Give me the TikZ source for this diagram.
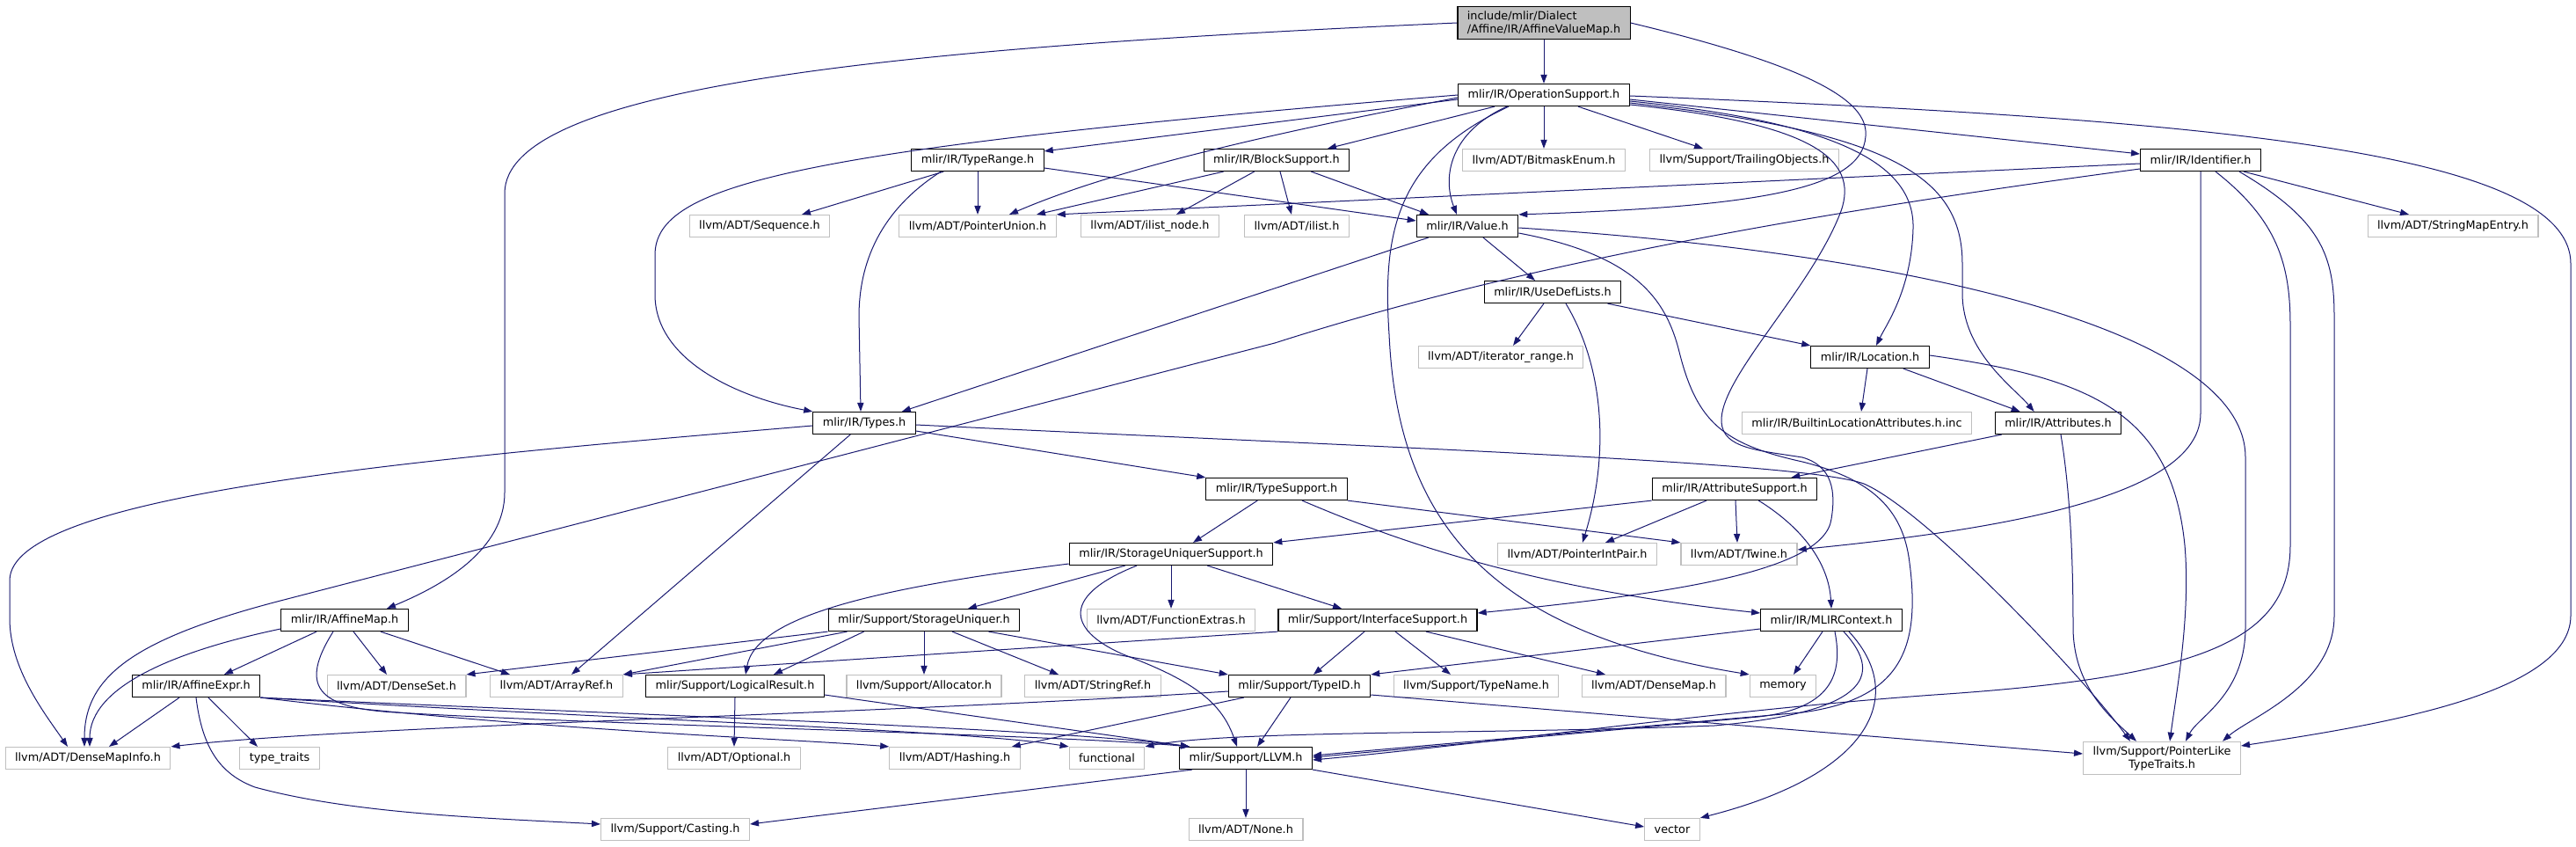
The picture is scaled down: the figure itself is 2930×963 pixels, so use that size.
\documentclass[tikz,border=0pt]{standalone}
\usepackage{fontspec}
\setmainfont{DejaVu Sans}
\usetikzlibrary{arrows.meta, calc}
\definecolor{edgeBlue}{HTML}{191970}
\definecolor{extGray}{HTML}{BFBFBF}

\begin{document}
\begin{tikzpicture}[x=0.5pt, y=-0.5pt, font=\fontsize{6.4}{7.5}\selectfont,
    box/.style={rectangle, inner xsep=5.5pt, inner ysep=2.5pt, minimum height=12.5pt, text=black},
    doc/.style={box, draw=black, line width=0.6pt, fill=white},
    ext/.style={box, draw=extGray, line width=0.6pt, fill=white},
    dep/.style={draw=edgeBlue, line width=0.5pt, -{Triangle[length=5pt, width=3.6pt]}}]
  \useasboundingbox[fill=white] (0,0) rectangle (2930,963);

  % headers, row by row
  \node[doc, fill=extGray, align=left] (root) at (1756,26) {include/mlir/Dialect\\/Affine/IR/AffineValueMap.h};
  \node[doc] (opsup) at (1756,108) {mlir/IR/OperationSupport.h};
  \node[doc] (typerange) at (1112,182) {mlir/IR/TypeRange.h};
  \node[doc] (blocksup) at (1452,182) {mlir/IR/BlockSupport.h};
  \node[ext] (bitmask) at (1756,182) {llvm/ADT/BitmaskEnum.h};
  \node[ext] (trailing) at (1984,182) {llvm/Support/TrailingObjects.h};
  \node[doc] (identifier) at (2503,182) {mlir/IR/Identifier.h};
  \node[ext] (seq) at (864,257) {llvm/ADT/Sequence.h};
  \node[ext] (ptrunion) at (1112,257) {llvm/ADT/PointerUnion.h};
  \node[ext] (ilistnode) at (1308,257) {llvm/ADT/ilist\_node.h};
  \node[ext] (ilist) at (1475,257) {llvm/ADT/ilist.h};
  \node[doc] (value) at (1669,257) {mlir/IR/Value.h};
  \node[ext] (smentry) at (2790,257) {llvm/ADT/StringMapEntry.h};
  \node[doc] (usedef) at (1766,332) {mlir/IR/UseDefLists.h};
  \node[ext] (iterrange) at (1707,406) {llvm/ADT/iterator\_range.h};
  \node[doc] (location) at (2127,406) {mlir/IR/Location.h};
  \node[doc] (types) at (983,481) {mlir/IR/Types.h};
  \node[ext] (builtinloc) at (2112,481) {mlir/IR/BuiltinLocationAttributes.h.inc};
  \node[doc] (attributes) at (2341,481) {mlir/IR/Attributes.h};
  \node[doc] (typesupport) at (1452,556) {mlir/IR/TypeSupport.h};
  \node[doc] (attrsupport) at (1973,556) {mlir/IR/AttributeSupport.h};
  \node[doc] (sus) at (1332,630) {mlir/IR/StorageUniquerSupport.h};
  \node[ext] (ptrintpair) at (1794,630) {llvm/ADT/PointerIntPair.h};
  \node[ext] (twine) at (1978,630) {llvm/ADT/Twine.h};
  \node[doc] (affinemap) at (392,705) {mlir/IR/AffineMap.h};
  \node[doc] (storageuniquer) at (1051,705) {mlir/Support/StorageUniquer.h};
  \node[ext] (funcextras) at (1332,705) {llvm/ADT/FunctionExtras.h};
  \node[doc] (ifacesup) at (1567,705) {mlir/Support/InterfaceSupport.h};
  \node[doc] (mlircontext) at (2083,705) {mlir/IR/MLIRContext.h};
  \node[doc] (affineexpr) at (223,780) {mlir/IR/AffineExpr.h};
  \node[ext] (denseset) at (451,780) {llvm/ADT/DenseSet.h};
  \node[ext] (arrayref) at (633,780) {llvm/ADT/ArrayRef.h};
  \node[doc] (logicalresult) at (836,780) {mlir/Support/LogicalResult.h};
  \node[ext] (allocator) at (1051,780) {llvm/Support/Allocator.h};
  \node[ext] (stringref) at (1243,780) {llvm/ADT/StringRef.h};
  \node[doc] (typeid) at (1478,780) {mlir/Support/TypeID.h};
  \node[ext] (typename) at (1679,780) {llvm/Support/TypeName.h};
  \node[ext] (densemap) at (1881,780) {llvm/ADT/DenseMap.h};
  \node[ext] (memory) at (2028,780) {memory};
  \node[ext] (densemapinfo) at (100,862) {llvm/ADT/DenseMapInfo.h};
  \node[ext] (typetraits) at (318,862) {type\_traits};
  \node[ext] (optional) at (835,862) {llvm/ADT/Optional.h};
  \node[ext] (hashing) at (1086,862) {llvm/ADT/Hashing.h};
  \node[ext] (functional) at (1259,862) {functional};
  \node[doc] (llvm) at (1417,862) {mlir/Support/LLVM.h};
  \node[ext, align=center] (pltt) at (2459,862) {llvm/Support/PointerLike\\TypeTraits.h};
  \node[ext] (casting) at (768,943) {llvm/Support/Casting.h};
  \node[ext] (none) at (1417,943) {llvm/ADT/None.h};
  \node[ext] (vector) at (1902,943) {vector};

  % root header
  \draw[dep] (root.south) -- (opsup.north);
  \draw[dep] (root.west) .. controls (1000,55) and (574,100) .. (574,220) -- (574,560)
    .. controls (574,625) and (505,665) .. ($(affinemap.north)+(48,0)$);
  \draw[dep] (root.east) .. controls (2080,80) and (2125,120) .. (2122,155)
    .. controls (2118,215) and (2000,235) .. (value.north east);

  % OperationSupport
  \draw[dep] ($(opsup.west)+(0,5)$) -- ($(typerange.north east)+(0,3)$);
  \draw[dep] (opsup.west) .. controls (900,170) and (745,210) .. (745,290) -- (745,335)
    .. controls (745,410) and (840,452) .. (types.north west);
  \draw[dep] ($(opsup.west)+(0,3)$) .. controls (1400,160) and (1250,200) .. ($(ptrunion.north)+(36,0)$);
  \draw[dep] ($(opsup.south west)+(42,0)$) -- ($(blocksup.north)+(58,0)$);
  \draw[dep] (opsup.south) -- (bitmask.north);
  \draw[dep] ($(opsup.south east)+(-59,0)$) -- ($(trailing.north)+(-47,0)$);
  \draw[dep] ($(opsup.east)+(0,5)$) -- ($(identifier.west)+(0,-7)$);
  \draw[dep] ($(opsup.east)+(0,1)$) .. controls (2500,135) and (2924,170) .. (2924,300) -- (2924,700)
    .. controls (2924,790) and (2700,825) .. ($(pltt.east)+(0,-14)$);
  \draw[dep] ($(opsup.south)+(-42,0)$) .. controls (1650,150) and (1640,200) .. ($(value.north)+(-12,0)$);
  \draw[dep] ($(opsup.south)+(-40,0)$) .. controls (1590,180) and (1572,260) .. (1580,380)
    .. controls (1590,600) and (1700,720) .. (memory.north west);
  \draw[dep] ($(opsup.east)+(0,7)$) .. controls (2100,140) and (2178,190) .. (2176,260)
    .. controls (2174,330) and (2145,370) .. ($(location.north)+(7,0)$);
  \draw[dep] ($(opsup.east)+(0,9)$) .. controls (2150,150) and (2232,200) .. (2232,300) -- (2232,333)
    .. controls (2232,400) and (2290,440) .. ($(attributes.north west)+(45,0)$);
  \draw[dep] ($(opsup.east)+(0,11)$) .. controls (2060,140) and (2115,180) .. (2094,240)
    .. controls (2060,330) and (1955,430) .. (1958,480)
    .. controls (1960,510) and (2000,512) .. (2050,520)
    .. controls (2085,530) and (2088,560) .. (2083,590)
    .. controls (2075,650) and (1900,675) .. ($(ifacesup.east)+(0,-8)$);

  % TypeRange and BlockSupport
  \draw[dep] ($(typerange.south west)+(37,0)$) -- ($(seq.north)+(48,0)$);
  \draw[dep] (typerange.south) -- (ptrunion.north);
  \draw[dep] ($(typerange.south west)+(34,0)$) .. controls (1000,240) and (977,300) .. (977,360)
    -- ($(types.north)+(-4,0)$);
  \draw[dep] ($(typerange.east)+(0,9)$) -- ($(value.west)+(0,-6)$);
  \draw[dep] ($(blocksup.south west)+(23,0)$) -- ($(ptrunion.north)+(67,0)$);
  \draw[dep] ($(blocksup.south west)+(58,0)$) -- ($(ilistnode.north)+(30,0)$);
  \draw[dep] ($(blocksup.south)+(4,0)$) -- ($(ilist.north)+(-6,0)$);
  \draw[dep] ($(blocksup.south east)+(-44,0)$) -- ($(value.north)+(-44,0)$);

  % Identifier
  \draw[dep] ($(identifier.west)+(0,4)$) -- (ptrunion.north east);
  \draw[dep] ($(identifier.west)+(0,10)$) .. controls (2000,250) and (1700,310) .. (1450,390) -- (319,683)
    .. controls (150,727) and (96,770) .. ($(densemapinfo.north)+(-4,0)$);
  \draw[dep] (identifier.south) -- (2503,470) .. controls (2503,560) and (2300,600) .. ($(twine.east)+(0,-5)$);
  \draw[dep] ($(identifier.south)+(17,0)$) .. controls (2590,250) and (2605,300) .. (2605,370) -- (2605,620)
    .. controls (2605,730) and (2500,770) .. (2200,790)
    .. controls (1950,808) and (1700,845) .. ($(llvm.east)+(0,2)$);
  \draw[dep] ($(identifier.south east)+(-25,0)$) .. controls (2640,250) and (2655,290) .. (2655,360) -- (2655,700)
    .. controls (2655,780) and (2560,815) .. ($(pltt.north east)+(-21,0)$);
  \draw[dep] ($(identifier.south east)+(-20,0)$) -- ($(smentry.north)+(-50,0)$);

  % Value and UseDefLists
  \draw[dep] ($(value.south west)+(14,0)$) -- ($(types.north east)+(-16,0)$);
  \draw[dep] ($(value.south)+(18,0)$) -- ($(usedef.north)+(-20,0)$);
  \draw[dep] ($(value.east)+(0,8)$) .. controls (1860,290) and (1895,340) .. (1910,400)
    .. controls (1930,480) and (1960,505) .. (2050,525)
    .. controls (2130,545) and (2165,580) .. (2172,640)
    .. controls (2185,740) and (2160,795) .. (2050,810) -- ($(llvm.east)+(0,-3)$);
  \draw[dep] ($(value.east)+(0,2)$) .. controls (2200,290) and (2554,380) .. (2554,520) -- (2554,713)
    .. controls (2554,790) and (2500,815) .. ($(pltt.north)+(27,0)$);
  \draw[dep] ($(usedef.south)+(-10,0)$) -- ($(iterrange.north)+(14,0)$);
  \draw[dep] ($(usedef.south)+(15,0)$) .. controls (1826,420) and (1830,520) .. ($(ptrintpair.north)+(6,0)$);
  \draw[dep] ($(usedef.south east)+(-16,0)$) -- (location.north west);

  % Location, Attributes, Types
  \draw[dep] ($(location.south)+(-3,0)$) -- ($(builtinloc.north)+(5,0)$);
  \draw[dep] ($(location.south east)+(-30,0)$) -- ($(attributes.north west)+(29,0)$);
  \draw[dep] ($(location.east)+(0,-2)$) .. controls (2380,430) and (2470,470) .. (2485,620)
    .. controls (2492,700) and (2475,790) .. ($(pltt.north)+(9,0)$);
  \draw[dep] ($(attributes.south west)+(8,0)$) -- ($(attrsupport.north east)+(-30,0)$);
  \draw[dep] ($(attributes.south)+(3,0)$) .. controls (2355,560) and (2358,640) .. (2358,713)
    .. controls (2358,780) and (2400,815) .. ($(pltt.north)+(-29,0)$);
  \draw[dep] ($(types.east)+(0,9)$) -- (typesupport.north west);
  \draw[dep] ($(types.south west)+(43,0)$) -- ($(arrayref.north)+(17,0)$);
  \draw[dep] ($(types.west)+(0,3)$) .. controls (500,520) and (11,560) .. (11,660) -- (11,703)
    .. controls (11,760) and (50,810) .. ($(densemapinfo.north)+(-23,0)$);
  \draw[dep] ($(types.east)+(0,2)$) .. controls (1600,510) and (2050,525) .. (2120,550)
    .. controls (2190,580) and (2370,770) .. ($(pltt.north)+(-36,0)$);

  % TypeSupport and AttributeSupport
  \draw[dep] ($(typesupport.south west)+(59,0)$) -- ($(sus.north)+(25,0)$);
  \draw[dep] (typesupport.south east) -- (twine.north west);
  \draw[dep] ($(typesupport.south)+(29,0)$) .. controls (1600,620) and (1750,670) .. ($(mlircontext.west)+(0,-8)$);
  \draw[dep] (attrsupport.south west) -- (sus.north east);
  \draw[dep] ($(attrsupport.south)+(-32,0)$) -- ($(ptrintpair.north)+(32,0)$);
  \draw[dep] ($(attrsupport.south)+(1,0)$) -- ($(twine.north)+(-2,0)$);
  \draw[dep] ($(attrsupport.south east)+(-67,0)$) .. controls (2050,600) and (2080,640) .. (mlircontext.north);

  % StorageUniquerSupport and StorageUniquer
  \draw[dep] ($(sus.south west)+(64,0)$) -- ($(storageuniquer.north)+(50,0)$);
  \draw[dep] ($(sus.west)+(0,11)$) .. controls (1000,668) and (860,700) .. ($(logicalresult.north)+(12,0)$);
  \draw[dep] (sus.south) -- (funcextras.north);
  \draw[dep] ($(sus.south east)+(-75,0)$) -- ($(ifacesup.north)+(-41,0)$);
  \draw[dep] ($(sus.south)+(-39,0)$) .. controls (1200,680) and (1220,720) .. (1280,745)
    .. controls (1360,775) and (1390,800) .. ($(llvm.north)+(-10,0)$);
  \draw[dep] (storageuniquer.south) -- (allocator.north);
  \draw[dep] ($(storageuniquer.south)+(32,0)$) -- ($(stringref.north)+(-39,0)$);
  \draw[dep] ($(storageuniquer.south east)+(-36,0)$) -- (typeid.north west);
  \draw[dep] (storageuniquer.south west) -- (denseset.north east);
  \draw[dep] ($(storageuniquer.south west)+(22,0)$) -- (arrayref.north east);
  \draw[dep] ($(storageuniquer.south west)+(41,0)$) -- ($(logicalresult.north)+(44,0)$);

  % InterfaceSupport and MLIRContext
  \draw[dep] (ifacesup.south west) -- (arrayref.north east);
  \draw[dep] ($(ifacesup.south)+(-15,0)$) -- ($(typeid.north)+(16,0)$);
  \draw[dep] ($(ifacesup.south)+(20,0)$) -- ($(typename.north)+(-29,0)$);
  \draw[dep] ($(ifacesup.south)+(55,0)$) -- ($(densemap.north)+(-55,0)$);
  \draw[dep] ($(mlircontext.west)+(0,10)$) -- (typeid.north east);
  \draw[dep] ($(mlircontext.south)+(-10,0)$) -- ($(memory.north)+(12,0)$);
  \draw[dep] ($(mlircontext.south)+(4,0)$) .. controls (2095,760) and (2090,805) .. (2000,815)
    -- ($(llvm.east)+(0,-1)$);
  \draw[dep] ($(mlircontext.south)+(14,0)$) .. controls (2145,770) and (2120,810) .. (1950,825)
    .. controls (1700,835) and (1400,830) .. (functional.north east);
  \draw[dep] ($(mlircontext.south)+(20,0)$) .. controls (2170,790) and (2130,880) .. (vector.north east);

  % AffineMap and AffineExpr
  \draw[dep] ($(affinemap.west)+(0,10)$) .. controls (200,740) and (102,780) .. ($(densemapinfo.north)+(2,0)$);
  \draw[dep] ($(affinemap.south west)+(41,0)$) -- ($(affineexpr.north)+(32,0)$);
  \draw[dep] ($(affinemap.south)+(-13,0)$) .. controls (340,780) and (360,805) .. (450,810)
    .. controls (700,825) and (1200,835) .. ($(llvm.north west)+(12,0)$);
  \draw[dep] ($(affinemap.south)+(10,0)$) -- ($(denseset.north)+(-11,0)$);
  \draw[dep] ($(affinemap.south east)+(-32,0)$) -- ($(arrayref.north)+(-53,0)$);
  \draw[dep] ($(affineexpr.south)+(-19,0)$) -- ($(densemapinfo.north)+(24,0)$);
  \draw[dep] ($(affineexpr.south)+(14,0)$) -- ($(typetraits.north)+(-25,0)$);
  \draw[dep] (affineexpr.south) .. controls (230,850) and (250,880) .. (290,895)
    .. controls (400,925) and (550,930) .. ($(casting.west)+(0,-6)$);
  \draw[dep] (affineexpr.south east) .. controls (600,830) and (900,840) .. (hashing.north west);
  \draw[dep] (affineexpr.south east) .. controls (700,818) and (1100,830) .. (functional.north west);
  \draw[dep] (affineexpr.south east) .. controls (700,812) and (1200,828) .. ($(llvm.north west)+(12,0)$);

  % LogicalResult, TypeID, LLVM
  \draw[dep] (logicalresult.south) -- (optional.north);
  \draw[dep] ($(logicalresult.east)+(0,10)$) -- ($(llvm.north west)+(12,0)$);
  \draw[dep] ($(typeid.west)+(0,6)$) .. controls (1000,812) and (400,825) .. (densemapinfo.north east);
  \draw[dep] ($(typeid.south west)+(18,0)$) -- ($(hashing.north east)+(-10,0)$);
  \draw[dep] ($(typeid.south)+(-10,0)$) -- ($(llvm.north)+(13,0)$);
  \draw[dep] ($(typeid.east)+(0,10)$) -- ($(pltt.west)+(0,-5)$);
  \draw[dep] ($(llvm.south west)+(15,0)$) -- ($(casting.east)+(0,-6)$);
  \draw[dep] (llvm.south) -- (none.north);
  \draw[dep] (llvm.south east) -- ($(vector.west)+(0,-3)$);
\end{tikzpicture}
\end{document}
